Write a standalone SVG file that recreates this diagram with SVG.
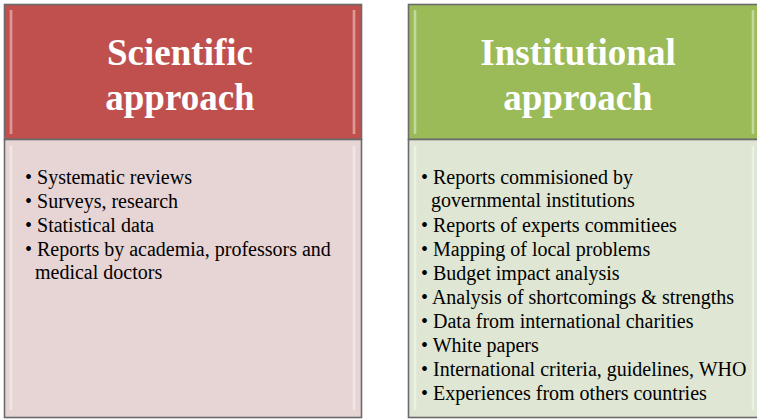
<svg xmlns="http://www.w3.org/2000/svg" width="757" height="420" viewBox="0 0 757 420">
<style>
.frame{stroke:#6b6b6b;stroke-width:1.6}
.head{font-family:"Liberation Serif","Times New Roman",serif;font-weight:bold;font-size:37px;fill:#ffffff;text-anchor:middle}
.item{font-family:"Liberation Serif","Times New Roman",serif;font-size:20px;fill:#000000}
</style>
<defs>
<linearGradient id="hlL" x1="0" y1="0" x2="1" y2="0">
<stop offset="0" stop-color="#ffffff" stop-opacity="0"/>
<stop offset="0.5" stop-color="#ffffff" stop-opacity="0.55"/>
<stop offset="1" stop-color="#ffffff" stop-opacity="0"/>
</linearGradient>
</defs>
<g id="scientific-header">
<rect class="frame" x="4.5" y="4.5" width="357" height="135" fill="#c0504d"/>
<rect x="9" y="10" width="4" height="124" fill="url(#hlL)"/>
<rect x="352" y="10" width="4" height="124" fill="url(#hlL)"/>
<text class="head" x="180" y="65">Scientific</text>
<text class="head" x="180" y="110">approach</text>
</g>
<g id="scientific-body">
<rect class="frame" x="4.5" y="139.5" width="357" height="278" fill="#e7d4d4"/>
<rect x="9" y="146" width="4" height="264" fill="url(#hlL)"/>
<rect x="352" y="146" width="4" height="264" fill="url(#hlL)"/>
<text class="item" x="25" y="184">• Systematic reviews</text>
<text class="item" x="25" y="208">• Surveys, research</text>
<text class="item" x="25" y="232">• Statistical data</text>
<text class="item" x="25" y="256">• Reports by academia, professors and</text>
<text class="item" x="35" y="279">medical doctors</text>
</g>
<g id="institutional-header">
<rect class="frame" x="408.5" y="4.5" width="350" height="135" fill="#9bbb59"/>
<rect x="413" y="10" width="4" height="124" fill="url(#hlL)"/>
<rect x="751" y="10" width="4" height="124" fill="url(#hlL)"/>
<text class="head" x="578" y="65">Institutional</text>
<text class="head" x="578" y="110">approach</text>
</g>
<g id="institutional-body">
<rect class="frame" x="408.5" y="139.5" width="350" height="278" fill="#dfe6d3"/>
<rect x="413" y="146" width="4" height="264" fill="url(#hlL)"/>
<rect x="751" y="146" width="4" height="264" fill="url(#hlL)"/>
<text class="item" x="421" y="184">• Reports commisioned by</text>
<text class="item" x="431" y="207">governmental institutions</text>
<text class="item" x="421" y="232">• Reports of experts commitiees</text>
<text class="item" x="421" y="256">• Mapping of local problems</text>
<text class="item" x="421" y="280">• Budget impact analysis</text>
<text class="item" x="421" y="304">• Analysis of shortcomings &amp; strengths</text>
<text class="item" x="421" y="328">• Data from international charities</text>
<text class="item" x="421" y="352">• White papers</text>
<text class="item" x="421" y="376">• International criteria, guidelines, WHO</text>
<text class="item" x="421" y="400">• Experiences from others countries</text>
</g>
<g id="connectors"></g>
</svg>
